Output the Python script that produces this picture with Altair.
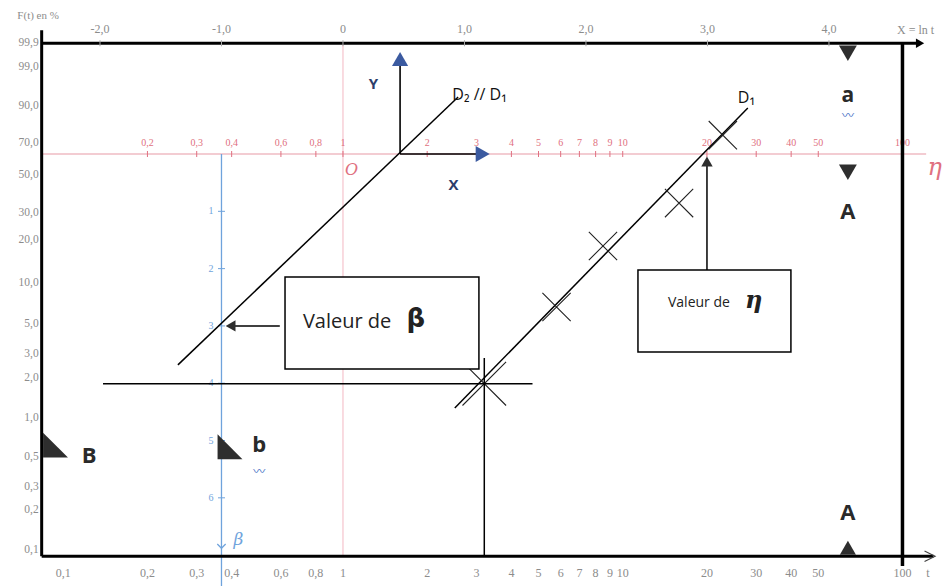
import numpy as np
import pandas as pd
import altair as alt

# ---------------------------------------------------------------------------
# Weibull probability paper (Allan Plait): X = ln t, Y = ln(-ln(1 - F))
# ---------------------------------------------------------------------------

# upper graduation in X = ln t
top_vals = [-2.0, -1.0, 0.0, 1.0, 2.0, 3.0, 4.0]
top_labels = ["-2,0", "-1,0", "0", "1,0", "2,0", "3,0", "4,0"]

# lower graduation in t
t_vals = [0.1, 0.2, 0.3, 0.4, 0.6, 0.8, 1, 2, 3, 4, 5, 6, 7, 8, 9, 10, 20, 30, 40, 50, 100]
t_labels = ["0,1", "0,2", "0,3", "0,4", "0,6", "0,8", "1", "2", "3", "4", "5", "6",
            "7", "8", "9", "10", "20", "30", "40", "50", "100"]

# eta graduation (red axis through Y = 0)
eta_vals = [0.2, 0.3, 0.4, 0.6, 0.8, 1, 2, 3, 4, 5, 6, 7, 8, 9, 10, 20, 30, 40, 50, 100]
eta_labels = ["0,2", "0,3", "0,4", "0,6", "0,8", "1", "2", "3", "4", "5", "6",
              "7", "8", "9", "10", "20", "30", "40", "50", "100"]

# F(t) in % on the left axis
F_vals = [99.9, 99.0, 90.0, 70.0, 50.0, 30.0, 20.0, 10.0, 5.0, 3.0, 2.0, 1.0, 0.5, 0.3, 0.2, 0.1]
F_labels = ["99,9", "99,0", "90,0", "70,0", "50,0", "30,0", "20,0", "10,0", "5,0",
            "3,0", "2,0", "1,0", "0,5", "0,3", "0,2", "0,1"]

# beta graduation (blue axis at X = -1)
beta_vals = [1, 2, 3, 4, 5, 6]

# plotted failures (t, F %)
obs_t = [3.2, 5.8, 8.5, 15.9, 22.8]
obs_F = [1.8, 6.7, 18.2, 34.6, 75.1]

# fitted line D1 and its parallel D2 (end points, t and F %)
d1_t = [2.51, 28.0]
d1_F = [1.18, 89.3]
d2_t = [0.257, 2.58]
d2_F = [2.49, 93.3]


def weib(F):
    F = np.asarray(F, dtype=float) / 100.0
    return np.log(-np.log(1.0 - F))


def lnt(t):
    return np.log(np.asarray(t, dtype=float))


W, H = 944, 586
xs = alt.Scale(domain=[-2.823, 4.947], nice=False, zero=False)
ys = alt.Scale(domain=[-7.539, 2.688], nice=False, zero=False)
XE = alt.X("x:Q", scale=xs, axis=None)
YE = alt.Y("y:Q", scale=ys, axis=None)

# frame geometry (in X / Y units)
X_LEFT = -2.48
Y_TOP = float(weib(99.9))
Y_BOT = -7.02
X_RIGHT = float(np.log(100))

GREY = "#8c8c8c"
RED = "#e07080"
REDLINE = "#e89aa6"
BLUE = "#6fa3dc"
NAVY = "#2c3d6b"
ARROWBLUE = "#3b5aa0"
DARK = "#2e2e2e"
SERIF = "Liberation Serif"
SANS = "Open Sans"


def segs(rows):
    return pd.DataFrame(rows, columns=["x", "y", "x2", "y2"])


def rules(rows, color="black", width=1.5, opacity=1.0):
    return alt.Chart(segs(rows)).mark_rule(color=color, strokeWidth=width, opacity=opacity).encode(
        x=XE, y=YE, x2="x2:Q", y2="y2:Q")


def texts(xv, yv, labels, **kw):
    df = pd.DataFrame({"x": xv, "y": yv, "label": labels})
    return alt.Chart(df).mark_text(**kw).encode(x=XE, y=YE, text="label:N")


def points(xv, yv, **kw):
    df = pd.DataFrame({"x": xv, "y": yv})
    return alt.Chart(df).mark_point(opacity=1, **kw).encode(x=XE, y=YE)


def seg_of(tv, Fv):
    xa, xb = lnt(tv)
    ya, yb = weib(Fv)
    return [float(xa), float(ya), float(xb), float(yb)]


layers = []

# faint red vertical through t = 1 and red eta axis through Y = 0
layers.append(rules([[0.0, Y_TOP, 0.0, Y_BOT]], color="#f3b8c2", width=1))
layers.append(rules([[X_LEFT, 0.0, 4.80, 0.0]], color=REDLINE, width=1.2))
eta_x = lnt(eta_vals)
layers.append(alt.Chart(pd.DataFrame({"x": eta_x, "y": 0.0})).mark_tick(
    orient="vertical", size=6, thickness=1, color=RED, opacity=1).encode(x=XE, y=YE))
layers.append(texts(eta_x, [0.0] * len(eta_x), eta_labels, dy=-11, fontSize=10,
                    font=SERIF, color=RED, align="center", baseline="middle"))

# blue beta axis at X = -1
layers.append(rules([[-1.0, 0.0, -1.0, -7.54]], color=BLUE, width=1.3))
layers.append(alt.Chart(pd.DataFrame({"x": -1.0, "y": [-b for b in beta_vals]})).mark_tick(
    orient="horizontal", size=7, thickness=1, color=BLUE, opacity=1).encode(x=XE, y=YE))
layers.append(texts([-1.0] * len(beta_vals), [-b for b in beta_vals], [str(b) for b in beta_vals],
                    dx=-8, fontSize=10, font=SERIF, color=BLUE, align="right", baseline="middle"))
layers.append(points([-1.0], [-6.88], shape="M-1,-1L0,0L1,-1", filled=False, size=70,
                     color=BLUE, strokeWidth=1.3))
layers.append(texts([-0.86], [-6.74], ["β"], fontSize=17, font="DejaVu Serif", fontStyle="italic",
                    color=BLUE, align="center", baseline="middle"))

# frame: thick axes
layers.append(rules([[X_LEFT, 2.16, X_LEFT, Y_BOT]], width=3))
layers.append(rules([[X_LEFT, Y_TOP, 4.74, Y_TOP]], width=3))
layers.append(rules([[X_LEFT, Y_BOT, 4.86, Y_BOT]], width=3))
layers.append(rules([[X_RIGHT, Y_TOP, X_RIGHT, -7.19]], width=3.5))
layers.append(points([4.75], [Y_TOP], shape="triangle-right", filled=True, size=90,
                     color="black", strokeWidth=0))
layers.append(points([4.83], [Y_BOT], shape="M-1,-1L1,0L-1,1", filled=False, size=110,
                     color="#444", strokeWidth=1.2))

# upper graduation X = ln t
layers.append(alt.Chart(pd.DataFrame({"x": top_vals, "y": Y_TOP})).mark_tick(
    orient="vertical", size=6, thickness=1, color="#aaa", opacity=1).encode(x=XE, y=YE))
layers.append(texts(top_vals, [Y_TOP] * len(top_vals), top_labels, dy=-14, fontSize=12,
                    font=SERIF, color=GREY, align="center", baseline="middle"))
layers.append(texts([-2.68], [2.41], ["F(t) en %"], fontSize=11, font=SERIF, color=GREY,
                    align="left", baseline="middle"))
layers.append(texts([4.56], [2.16], ["X = ln t"], fontSize=12, font=SERIF, color=GREY,
                    align="left", baseline="middle"))

# lower graduation t
t_x = lnt(t_vals)
layers.append(texts(t_x, [Y_BOT] * len(t_x), t_labels, dy=17, fontSize=12, font=SERIF,
                    color=GREY, align="center", baseline="middle"))
layers.append(texts([4.815], [Y_BOT], ["t"], dy=17, fontSize=12, font=SERIF, color=GREY,
                    align="center", baseline="middle"))

# left graduation F(t) %
F_y = weib(F_vals)
layers.append(texts([X_LEFT] * len(F_y), F_y, F_labels, dx=-3, fontSize=11.5, font=SERIF,
                    color=GREY, align="right", baseline="middle"))

# origin O and eta symbol
layers.append(texts([0.07], [-0.28], ["O"], fontSize=16, font="DejaVu Serif", fontStyle="italic",
                    color=RED, align="center", baseline="middle"))
layers.append(texts([4.87], [-0.24], ["η"], fontSize=24, font="DejaVu Serif", fontStyle="italic",
                    color=RED, align="center", baseline="middle"))

# reference frame X / Y at the new origin
X0 = 0.47
layers.append(rules([[X0, 0.0, X0, 1.62], [X0, 0.0, 1.12, 0.0]], width=1.6))
layers.append(points([X0], [1.66], shape="triangle-up", filled=True, size=260,
                     color=ARROWBLUE, strokeWidth=0))
layers.append(points([1.15], [0.0], shape="triangle-right", filled=True, size=260,
                     color=ARROWBLUE, strokeWidth=0))
layers.append(texts([0.25], [1.23], ["Y"], fontSize=15, font=SANS, fontWeight="bold",
                    color=NAVY, align="center", baseline="middle"))
layers.append(texts([0.91], [-0.54], ["X"], fontSize=15, font=SANS, fontWeight="bold",
                    color=NAVY, align="center", baseline="middle"))

# lines D1 and D2
layers.append(rules([seg_of(d1_t, d1_F), seg_of(d2_t, d2_F)], width=1.5))
layers.append(texts([0.90], [1.03], ["D₂ // D₁"], fontSize=16, font=SANS, color="#111",
                    align="left", baseline="middle"))
layers.append(texts([3.25], [0.98], ["D₁"], fontSize=16, font=SANS, color="#111",
                    align="left", baseline="middle"))

# failures plotted on D1
ox, oy = lnt(obs_t), weib(obs_F)
layers.append(points(ox[1:], oy[1:], shape="M-1,-1L1,1M-1,1L1,-1", filled=False, size=800,
                     color="#222", strokeWidth=1.1))
layers.append(points(ox[:1], oy[:1], shape="M-1,-1L1,1M-1,1L1,-1", filled=False, size=1900,
                     color="#222", strokeWidth=1.1))
layers.append(rules([[float(ox[0]), -3.56, float(ox[0]), Y_BOT],
                     [-1.975, float(oy[0]), 1.56, float(oy[0])]], width=1.5))

# box "Valeur de beta"
layers.append(alt.Chart(pd.DataFrame({"x": [-0.477], "x2": [1.119], "y": [-2.147], "y2": [-3.752]}))
              .mark_rect(fill="white", stroke="black", strokeWidth=1.5, opacity=1)
              .encode(x=XE, y=YE, x2="x2:Q", y2="y2:Q"))
layers.append(texts([-0.33], [-2.93], ["Valeur de"], fontSize=20, font=SANS, color="#222",
                    align="left", baseline="middle"))
layers.append(texts([0.60], [-2.88], ["β"], fontSize=26, font="DejaVu Sans", fontWeight="bold",
                    color="#222", align="center", baseline="middle"))
layers.append(rules([[-0.52, -3.0, -0.90, -3.0]], width=1.5))
layers.append(points([-0.925], [-3.0], shape="triangle-left", filled=True, size=130,
                     color=DARK, strokeWidth=0))

# box "Valeur de eta"
layers.append(alt.Chart(pd.DataFrame({"x": [2.428], "x2": [3.687], "y": [-2.024], "y2": [-3.455]}))
              .mark_rect(fill="white", stroke="black", strokeWidth=1.5, opacity=1)
              .encode(x=XE, y=YE, x2="x2:Q", y2="y2:Q"))
layers.append(texts([2.675], [-2.60], ["Valeur de"], fontSize=14, font=SANS, color="#222",
                    align="left", baseline="middle"))
layers.append(texts([3.38], [-2.56], ["η"], fontSize=24, font="DejaVu Serif", fontStyle="italic",
                    fontWeight="bold", color="#222", align="center", baseline="middle"))
layers.append(rules([[2.996, -2.024, 2.996, -0.16]], width=1.5))
layers.append(points([2.996], [-0.13], shape="triangle-up", filled=True, size=130,
                     color=DARK, strokeWidth=0))

# reading marks a / A / B / b
XM = 4.156
layers.append(points([XM, XM], [1.76, -0.32], shape="triangle-down", filled=True, size=320,
                     color=DARK, strokeWidth=0))
layers.append(points([XM], [-6.87], shape="triangle-up", filled=True, size=260,
                     color=DARK, strokeWidth=0))
layers.append(texts([XM, XM], [-1.01, -6.27], ["A", "A"], fontSize=22, font=SANS,
                    fontWeight="bold", color="#2a2a2a", align="center", baseline="middle"))
layers.append(texts([XM], [1.02], ["a"], fontSize=21, font=SANS, fontWeight="bold",
                    color="#2a2a2a", align="center", baseline="middle"))
corner = "M-1,-1L-1,1L1,1Z"
layers.append(points([-2.366, -0.93], [-5.08, -5.11], shape=corner, filled=True, size=620,
                     color=DARK, strokeWidth=0))
layers.append(texts([-2.09], [-5.27], ["B"], fontSize=22, font=SANS, fontWeight="bold",
                    color="#2a2a2a", align="center", baseline="middle"))
layers.append(texts([-0.69], [-5.08], ["b"], fontSize=22, font=SANS, fontWeight="bold",
                    color="#2a2a2a", align="center", baseline="middle"))
layers.append(texts([XM, -0.69], [0.66, -5.55], ["〰", "〰"], fontSize=12,
                    font="Noto Sans CJK JP", color="#3d6cc4", align="center", baseline="middle"))

chart = alt.layer(*layers).properties(
    width=W, height=H, padding=0, autosize=alt.AutoSizeParams(type="none"),
    background="white",
).configure_view(stroke=None)

chart.save("out.html", embed_options={"renderer": "svg", "actions": False})
